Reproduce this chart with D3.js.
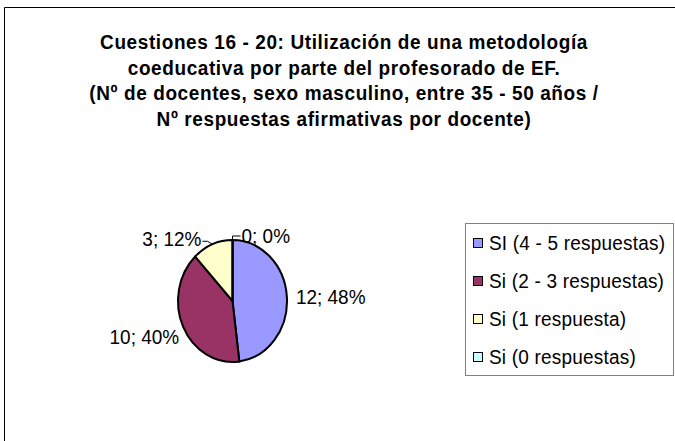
<!DOCTYPE html>
<html>
<head>
<meta charset="utf-8">
<script src="https://cdn.jsdelivr.net/npm/d3@7"></script>
<style>
  body { margin: 0; background: #fff; }
  svg { display: block; font-family: "Liberation Sans", Arial, sans-serif; }
</style>
</head>
<body>
<svg id="chart" width="675" height="441"></svg>
<script>
// datos del gráfico
const categories = ["SI (4 - 5 respuestas)", "Si (2 - 3 respuestas)", "Si (1 respuesta)", "Si (0 respuestas)"];
const values = [12, 10, 3, 0];
const colors = ["#9999ff", "#993366", "#ffffcc", "#ccffff"];
const titleLines = [
  "Cuestiones 16 - 20: Utilización de una metodología",
  "coeducativa por parte del profesorado de EF.",
  "(Nº de docentes, sexo masculino, entre 35 - 50 años /",
  "Nº respuestas afirmativas por docente)"
];

const svg = d3.select("#chart");
const sy = 1.06; // el original está algo estirado en vertical

// marco del gráfico
svg.append("path")
  .attr("d", "M4.5,441 L4.5,7.5 L675,7.5")
  .attr("fill", "none")
  .attr("stroke", "#000");

// título
svg.append("g").selectAll("text")
  .data(titleLines)
  .enter().append("text")
  .attr("transform", (d, i) => `translate(344,${49 + i * 25.5}) scale(1,${sy})`)
  .attr("text-anchor", "middle")
  .style("font-weight", "bold")
  .style("font-size", "19px")
  .style("letter-spacing", "0.6px")
  .text(d => d);

// tarta (elíptica como en Excel)
const cx = 232.5, cy = 301, rx = 54.5, ry = 61;
const total = d3.sum(values);
const pie = d3.pie().sort(null).value(d => d)(values);
const arc = d3.arc().innerRadius(0).outerRadius(rx);

const pg = svg.append("g").attr("transform", `translate(${cx},${cy}) scale(1,${ry / rx})`);
pg.selectAll("path")
  .data(pie)
  .enter().append("path")
  .attr("d", arc)
  .attr("fill", (d, i) => colors[i])
  .attr("stroke", "#000")
  .attr("stroke-width", 2)
  .attr("vector-effect", "non-scaling-stroke");

// etiquetas: punto en el borde según el ángulo medio
function edge(d, k) {
  const a = (d.startAngle + d.endAngle) / 2;
  return [cx + Math.sin(a) * rx * k, cy - Math.cos(a) * ry * k];
}
const labelShift = [[9, 0], [-4, 10], [-11, -5], [9, -4]];
const anchors = ["start", "end", "end", "start"];

const lg = svg.append("g");
pie.forEach((d, i) => {
  const [ex, ey] = edge(d, 1);
  const lx = ex + labelShift[i][0], ly = ey + labelShift[i][1];
  const pct = Math.round(values[i] / total * 100);
  if (i >= 2) {
    // líneas guía
    const pts = i === 2
      ? [[ex, ey], [ex - 5, ey - 3], [lx + 1, ey - 3]]
      : [[ex, ey], [ex, ey - 4], [lx - 1, ey - 4]];
    lg.append("path")
      .attr("d", d3.line()(pts))
      .attr("fill", "none")
      .attr("stroke", "#000")
      .attr("stroke-width", 1);
  }
  lg.append("text")
    .attr("transform", `translate(${lx},${ly + 7}) scale(1,${sy})`)
    .attr("text-anchor", anchors[i])
    .style("font-size", "19px")
    .text(`${values[i]}; ${pct}%`);
});

// leyenda
const leg = svg.append("g");
leg.append("rect")
  .attr("x", 465.5).attr("y", 223.5)
  .attr("width", 208).attr("height", 152)
  .attr("fill", "#fff")
  .attr("stroke", "#808080");

const ly = d3.scalePoint().domain(categories).range([243, 357]);
const items = leg.selectAll("g.item")
  .data(categories)
  .enter().append("g")
  .attr("class", "item")
  .attr("transform", d => `translate(473,${ly(d)})`);
items.append("rect")
  .attr("x", 0.5).attr("y", -4.5)
  .attr("width", 9).attr("height", 9)
  .attr("fill", (d, i) => colors[i])
  .attr("stroke", "#000");
items.append("text")
  .attr("transform", `translate(16,7) scale(1,${sy})`)
  .style("font-size", "19px")
  .style("letter-spacing", "0.2px")
  .text(d => d);
</script>
</body>
</html>
